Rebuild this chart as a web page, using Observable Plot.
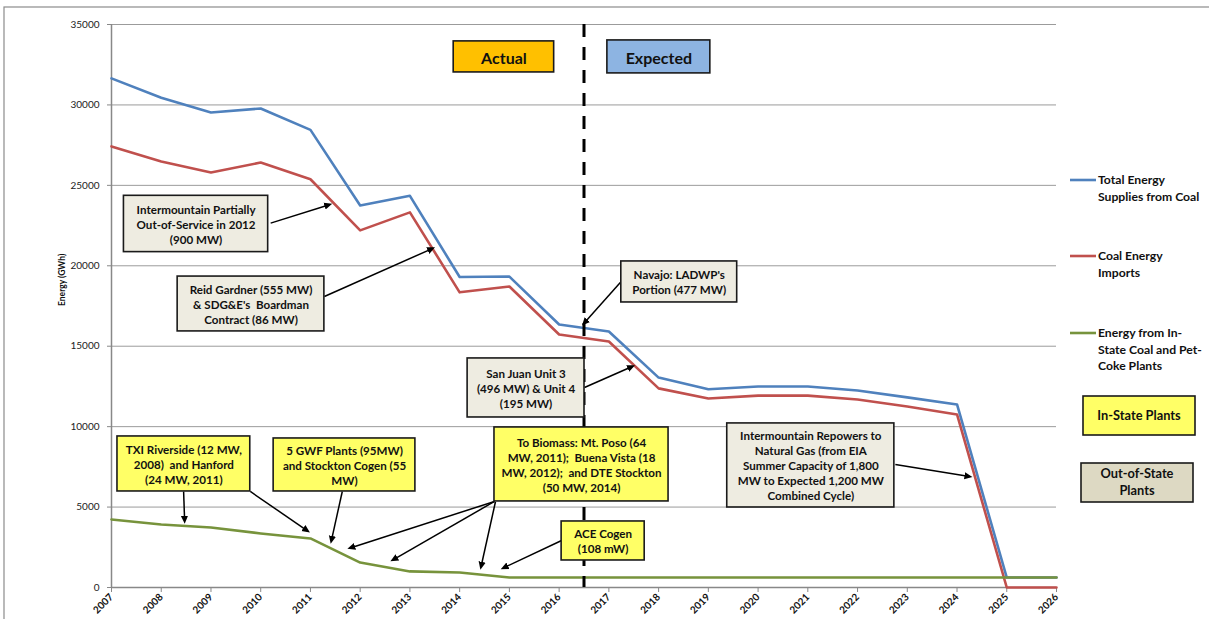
<!DOCTYPE html>
<html>
<head>
<meta charset="utf-8">
<script src="https://cdn.jsdelivr.net/npm/d3@7"></script>
<script src="https://cdn.jsdelivr.net/npm/@observablehq/plot@0.6"></script>
<style>
  body { margin: 0; background: #fff; }
  #chart { position: relative; width: 1209px; height: 619px; overflow: hidden; }
</style>
</head>
<body>
<div id="chart"></div>
<script>
// ---- Data (GWh per year) ----
const years = d3.range(2007, 2027);
const totalSupply = [31650, 30450, 29530, 29780, 28450, 23750, 24350, 19300, 19330, 16350,
                     15910, 13050, 12320, 12500, 12500, 12250, 11820, 11380, 620, 620];
const coalImports = [27420, 26480, 25800, 26420, 25380, 22200, 23320, 18350, 18710, 15730,
                     15290, 12380, 11750, 11930, 11930, 11690, 11250, 10760, 0, 0];
const inStateCoal = [4230, 3920, 3730, 3360, 3050, 1550, 1000, 930, 620, 620,
                     620, 620, 620, 620, 620, 620, 620, 620, 620, 620];

const seriesNames = ["Total Energy Supplies from Coal", "Coal Energy Imports",
                     "Energy from In-State Coal and Pet-Coke Plants"];
const seriesColors = ["#4F81BD", "#C0504D", "#77933C"];
const legendLines = [["Total Energy", "Supplies from Coal"], ["Coal Energy", "Imports"],
                     ["Energy from In-", "State Coal and Pet-", "Coke Plants"]];
const yTicks = [0, 5000, 10000, 15000, 20000, 25000, 30000, 35000];
const forecastStart = 2016.5;   // boundary between actual and expected years

// ---- Annotation call-outs (placed in year / GWh units) ----
const YELLOW = "#FFFF66", TAN = "#EEECE1", TAN_DARK = "#DDD9C3";
const calloutsOutOfState = [
  {x1: 2007.25, x2: 2010.15, y1: 20850, y2: 24350, label: "Intermountain Partially\nOut-of-Service in 2012\n(900 MW)"},
  {x1: 2008.33, x2: 2011.28, y1: 15920, y2: 19330, label: "Reid Gardner (555 MW)\n& SDG&E's  Boardman\nContract (86 MW)"},
  {x1: 2017.25, x2: 2019.58, y1: 17720, y2: 20270, label: "Navajo: LADWP's\nPortion (477 MW)"},
  {x1: 2014.16, x2: 2016.51, y1: 10570, y2: 14240, label: "San Juan Unit 3\n(496 MW) & Unit 4\n(195 MW)"},
  {x1: 2019.38, x2: 2022.74, y1: 4975, y2: 10200, label: "Intermountain Repowers to\nNatural Gas (from EIA\nSummer Capacity of 1,800\nMW to Expected 1,200 MW\nCombined Cycle)"}
];
const calloutsInState = [
  {x1: 2007.12, x2: 2009.79, y1: 5970, y2: 9390, label: "TXI Riverside (12 MW,\n2008)  and Hanford\n(24 MW, 2011)"},
  {x1: 2010.26, x2: 2013.11, y1: 5970, y2: 9265, label: "5 GWF Plants (95MW)\nand Stockton Cogen (55\nMW)"},
  {x1: 2014.70, x2: 2018.20, y1: 5350, y2: 9950, label: "To Biomass: Mt. Poso (64\nMW, 2011);  Buena Vista (18\nMW, 2012);  and DTE Stockton\n(50 MW, 2014)"},
  {x1: 2016.05, x2: 2017.72, y1: 1680, y2: 4105, label: "ACE Cogen\n(108 mW)"}
];
const periodTags = [
  {x1: 2013.88, x2: 2015.90, y1: 32020, y2: 33950, label: "Actual", fill: "#FFC000"},
  {x1: 2016.97, x2: 2019.04, y1: 31960, y2: 34010, label: "Expected", fill: "#8DB4E2"}
];
const pointers = [
  {x1: 2010.20, y1: 22650, x2: 2011.38, y2: 23800},
  {x1: 2011.28, y1: 18090, x2: 2013.45, y2: 21070},
  {x1: 2017.23, y1: 18960, x2: 2016.50, y2: 16420},
  {x1: 2016.51, y1: 12430, x2: 2017.47, y2: 13740},
  {x1: 2022.76, y1: 7650,  x2: 2024.25, y2: 6900},
  {x1: 2008.45, y1: 5970,  x2: 2008.47, y2: 4150},
  {x1: 2009.79, y1: 5970,  x2: 2010.94, y2: 3520},
  {x1: 2011.64, y1: 5970,  x2: 2011.42, y2: 2900},
  {x1: 2014.70, y1: 5350,  x2: 2011.80, y2: 2460},
  {x1: 2014.70, y1: 5350,  x2: 2012.66, y2: 1720},
  {x1: 2014.72, y1: 5330,  x2: 2014.43, y2: 1290},
  {x1: 2016.05, y1: 2920,  x2: 2014.88, y2: 1220}
];

// Long-format table for the three series
const seriesValues = [totalSupply, coalImports, inStateCoal];
const table = seriesNames.flatMap((name, i) =>
  years.map((year, j) => ({series: name, year, value: seriesValues[i][j]})));

const FONT = "Lato, 'Open Sans', sans-serif";
const mid = (a, b) => (a + b) / 2;
const boxText = (data, opts) => Plot.text(data, {
  x: d => mid(d.x1, d.x2), y: d => mid(d.y1, d.y2), text: "label",
  fontWeight: "bold", fill: "#111", lineHeight: 1.3, ...opts
});

const chart = Plot.plot({
  width: 1209, height: 619,
  marginLeft: 111, marginRight: 153, marginTop: 24, marginBottom: 32,
  x: {domain: [2007, 2026]},
  y: {domain: [0, 35000]},
  color: {domain: seriesNames, range: seriesColors},
  style: {fontFamily: FONT, background: "transparent", overflow: "visible"},
  marks: [
    Plot.gridY(yTicks, {stroke: "#9b9b9b", strokeOpacity: 1, strokeWidth: 1}),
    Plot.axisY(yTicks, {tickSize: 4, tickPadding: 8, tickFormat: "d", fontSize: 10,
                        stroke: "#888", fill: "#222", label: null}),
    Plot.axisX(years, {tickSize: 5, tickPadding: 3, tickRotate: -45, tickFormat: "d",
                       fontSize: 10, fontWeight: "bold", stroke: "#888", fill: "#111", label: null}),
    Plot.ruleY([0], {stroke: "#888", strokeWidth: 1.5}),
    Plot.ruleX([2007], {stroke: "#888", strokeWidth: 1.5}),
    Plot.text(["Energy (GWh)"], {frameAnchor: "left", dx: -49, rotate: -90,
                                 fontSize: 8.5, fontWeight: "bold", fill: "#111"}),
    Plot.line(table, {x: "year", y: "value", z: "series", stroke: "series",
                      strokeWidth: 2.6, strokeLinejoin: "round"}),
    Plot.ruleX([forecastStart], {stroke: "#000", strokeWidth: 3, strokeDasharray: "13,10"}),
    Plot.link(pointers, {x1: "x1", y1: "y1", x2: "x2", y2: "y2", stroke: "#000",
                         strokeWidth: 1.5, markerEnd: "arrow"}),
    Plot.rect(calloutsOutOfState, {x1: "x1", x2: "x2", y1: "y1", y2: "y2", fill: TAN,
                                   stroke: "#1a1a1a", strokeWidth: 1.6}),
    Plot.rect(calloutsInState, {x1: "x1", x2: "x2", y1: "y1", y2: "y2", fill: YELLOW,
                                stroke: "#1a1a1a", strokeWidth: 1.6}),
    Plot.rect(periodTags, {x1: "x1", x2: "x2", y1: "y1", y2: "y2", fill: d => d.fill,
                           stroke: "#1a1a1a", strokeWidth: 1.6}),
    boxText(calloutsOutOfState, {fontSize: 11.6}),
    boxText(calloutsInState, {fontSize: 11.6}),
    boxText(periodTags, {fontSize: 16})
  ]
});

// Filled triangular arrowheads for the call-out pointers
d3.select(chart).selectAll("marker").attr("fill", "#000").attr("stroke", "none")
  .select("path").attr("d", "M-5,-3.6L3,0L-5,3.6Z");

const svg = d3.select(chart);

// Outer chart frame
svg.insert("rect", ":first-child")
  .attr("x", 4).attr("y", 7).attr("width", 1400).attr("height", 800)
  .attr("fill", "#fff").attr("stroke", "#8c8c8c").attr("stroke-width", 1.2);

// Legend
const legend = svg.append("g").attr("font-family", FONT).attr("font-weight", "bold")
  .attr("font-size", 12.2).attr("fill", "#111").attr("text-anchor", "start");
const legendY = [180, 256, 333];
seriesNames.forEach((name, i) => {
  legend.append("line").attr("x1", 1070).attr("x2", 1096)
    .attr("y1", legendY[i]).attr("y2", legendY[i])
    .attr("stroke", seriesColors[i]).attr("stroke-width", 2.6);
  legendLines[i].forEach((t, k) => {
    legend.append("text").attr("x", 1098).attr("y", legendY[i] + k * 16.6)
      .attr("dy", "0.35em").text(t);
  });
});
const legendBoxes = [
  {x: 1083, y: 396, w: 112, h: 39, fill: YELLOW, lines: ["In-State Plants"]},
  {x: 1081, y: 463, w: 112, h: 39, fill: TAN_DARK, lines: ["Out-of-State", "Plants"]}
];
legendBoxes.forEach(b => {
  legend.append("rect").attr("x", b.x).attr("y", b.y).attr("width", b.w).attr("height", b.h)
    .attr("fill", b.fill).attr("stroke", "#1a1a1a").attr("stroke-width", 1.6);
  const n = b.lines.length;
  b.lines.forEach((t, k) => {
    legend.append("text").attr("x", b.x + b.w / 2)
      .attr("y", b.y + b.h / 2 + (k - (n - 1) / 2) * 17)
      .attr("dy", "0.35em").attr("text-anchor", "middle").attr("font-size", 12.8).text(t);
  });
});

document.getElementById("chart").appendChild(chart);
</script>
</body>
</html>
